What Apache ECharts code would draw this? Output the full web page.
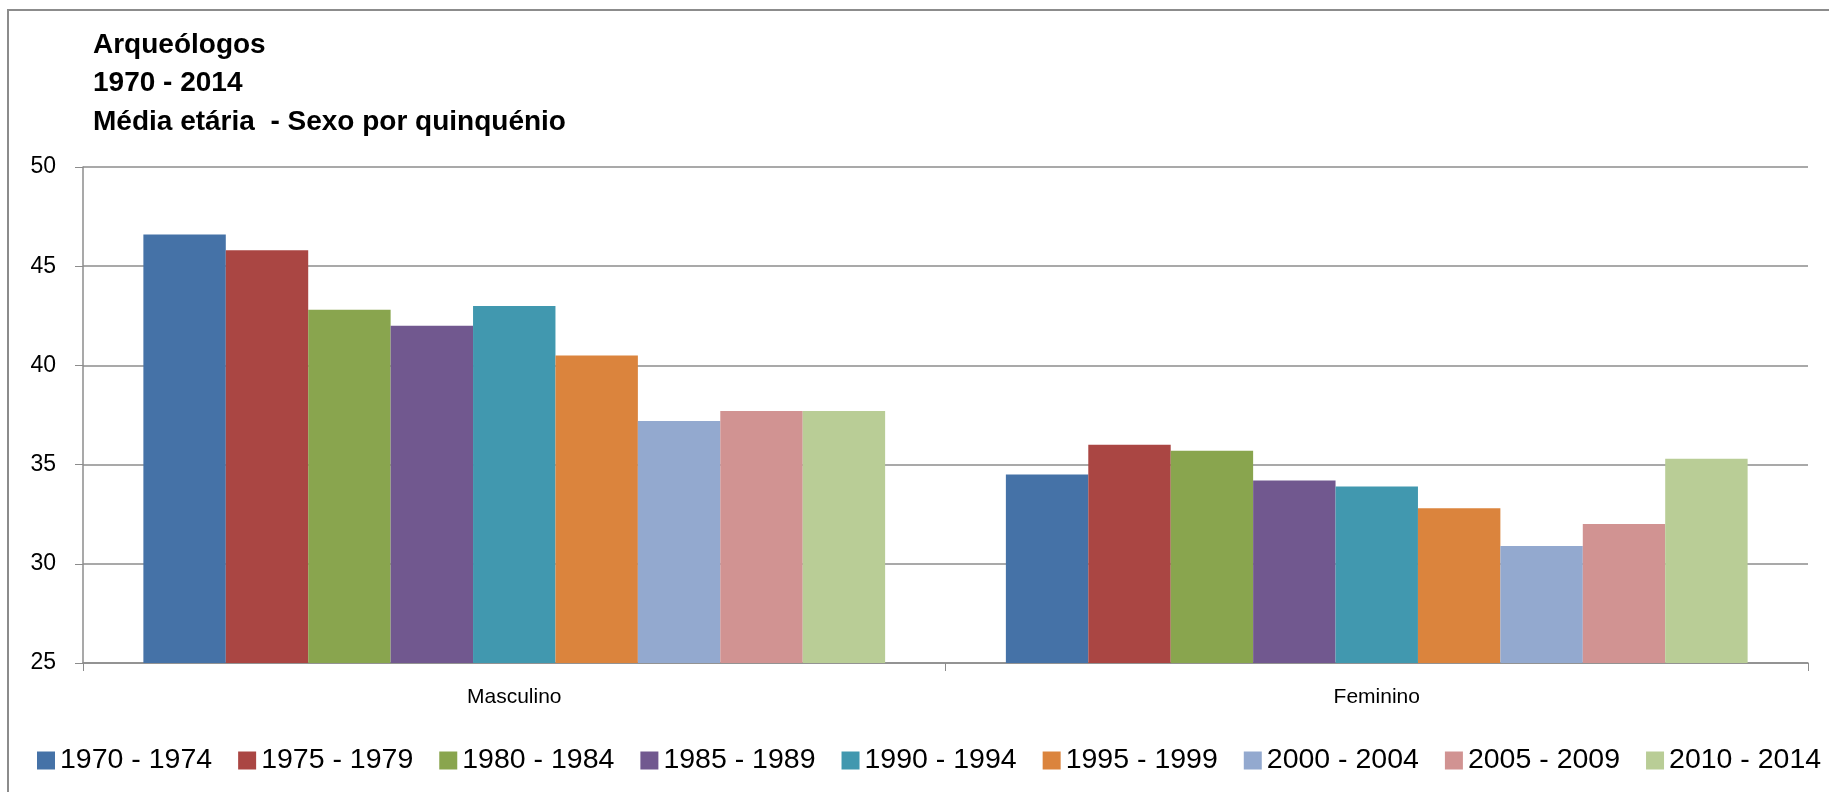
<!DOCTYPE html>
<html>
<head>
<meta charset="utf-8">
<script src="https://cdn.jsdelivr.net/npm/echarts@6/dist/echarts.min.js"></script>
<style>
html,body{margin:0;padding:0;background:#fff;}
#chart{width:1829px;height:792px;}
</style>
</head>
<body>
<div id="chart"></div>
<script>
const categories = ['Masculino', 'Feminino'];
const periods = ['1970 - 1974','1975 - 1979','1980 - 1984','1985 - 1989','1990 - 1994','1995 - 1999','2000 - 2004','2005 - 2009','2010 - 2014'];
const v1970 = [46.6, 34.5];
const v1975 = [45.8, 36.0];
const v1980 = [42.8, 35.7];
const v1985 = [42.0, 34.2];
const v1990 = [43.0, 33.9];
const v1995 = [40.5, 32.8];
const v2000 = [37.2, 30.9];
const v2005 = [37.7, 32.0];
const v2010 = [37.7, 35.3];
const seriesValues = [v1970, v1975, v1980, v1985, v1990, v1995, v2000, v2005, v2010];
const colors = ['#4572A7','#AA4643','#89A54E','#71588F','#4198AF','#DB843D','#93A9CF','#D19392','#B9CD96'];
const titleLines = ['Arqueólogos', '1970 - 2014', 'Média etária  - Sexo por quinquénio'];

const chart = echarts.init(document.getElementById('chart'));
const font = '"Liberation Sans", Arial, sans-serif';
const axisGray = '#8c8c8c';
chart.setOption({
  animation: false,
  color: colors,
  title: {
    text: titleLines.join('\n'),
    left: 93, top: 26, padding: 0,
    textStyle: { fontFamily: font, fontWeight: 'bold', fontSize: 28, lineHeight: 38.5, color: '#000' }
  },
  graphic: [{
    type: 'rect', silent: true,
    shape: { x: 8, y: 10, width: 1900, height: 900 },
    style: { fill: 'none', stroke: '#8c8c8c', lineWidth: 2 }
  }],
  legend: {
    left: 37, top: 746, padding: 0,
    itemWidth: 18, itemHeight: 18, itemGap: 26,
    icon: 'rect',
    data: periods,
    textStyle: { fontFamily: font, fontSize: 28.5, color: '#000' }
  },
  grid: { left: 83, right: 21, top: 167, bottom: 129, containLabel: false },
  xAxis: {
    type: 'category', data: categories,
    axisLine: { lineStyle: { color: axisGray, width: 1.5 } },
    axisTick: { show: true, length: 8, lineStyle: { color: axisGray } },
    axisLabel: { fontFamily: font, fontSize: 21, color: '#000', margin: 24 }
  },
  yAxis: {
    type: 'value', min: 25, max: 50, interval: 5,
    axisLine: { show: true, lineStyle: { color: axisGray, width: 1.5 } },
    axisTick: { show: true, length: 8, lineStyle: { color: axisGray } },
    axisLabel: { fontFamily: font, fontSize: 23, color: '#000', margin: 27 },
    splitLine: { lineStyle: { color: axisGray, width: 1.5 } }
  },
  series: periods.map((p, i) => ({
    name: p, type: 'bar', data: seriesValues[i],
    barGap: '0%', barCategoryGap: '14%',
    itemStyle: { color: colors[i] }
  }))
});
</script>
</body>
</html>
